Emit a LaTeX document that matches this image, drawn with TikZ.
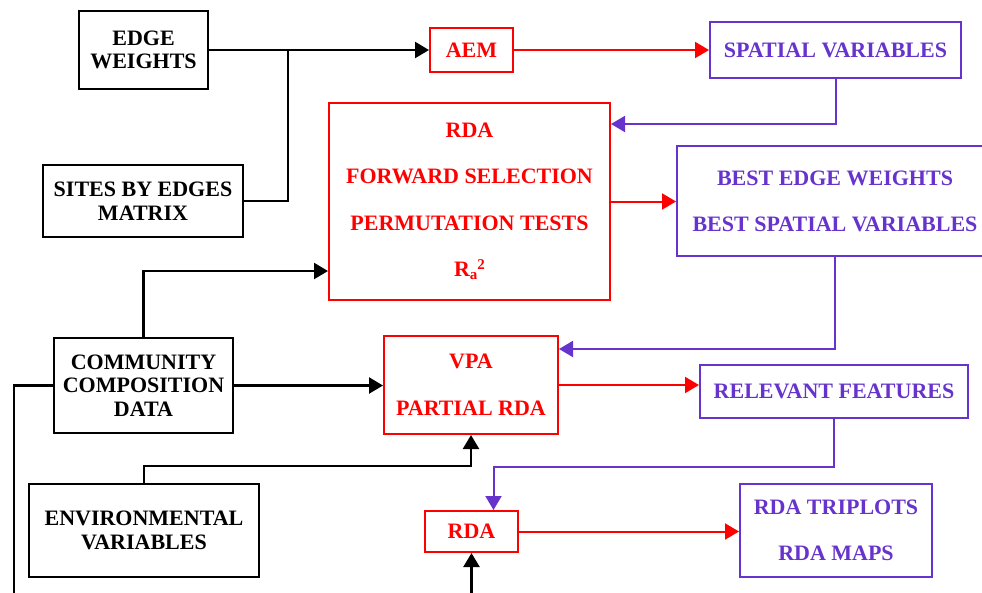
\documentclass[tikz,border=0pt]{standalone}
\usepackage{fontspec}
\setmainfont{Liberation Serif}
\usetikzlibrary{arrows.meta}
\definecolor{vio}{RGB}{102,51,204}
\definecolor{rd}{RGB}{255,0,0}
\begin{document}
\begin{tikzpicture}[x=1pt,y=-1pt,
  box/.style={draw, line width=2pt, align=center, inner sep=0pt, font=\bfseries\fontsize{22}{23.5}\selectfont},
  bbox/.style={box, draw=black, text=black, line width=2.4pt},
  rbox/.style={box, draw=rd, text=rd, font=\bfseries\fontsize{22}{46.5}\selectfont},
  pbox/.style={box, draw=vio, text=vio, font=\bfseries\fontsize{22}{46}\selectfont},
  tip/.style={-{Triangle[length=14pt,width=16pt]}},
  barr/.style={draw=black, line width=2.4pt},
  rarr/.style={draw=rd, line width=2pt},
  parr/.style={draw=vio, line width=2pt}]
\useasboundingbox (0,0) rectangle (982,592);
\fill[white] (0,0) rectangle (982,592);
% nodes
\node[bbox, minimum width=129pt, minimum height=78pt] (ew) at (143.5,50) {EDGE\\WEIGHTS};
\node[bbox, minimum width=200pt, minimum height=72pt] (sbe) at (143,201) {SITES BY EDGES\\MATRIX};
\node[rbox, minimum width=83pt, minimum height=44pt] (aem) at (471.5,50) {AEM};
\node[pbox, minimum width=251pt, minimum height=56pt] (sv) at (835.5,50) {SPATIAL VARIABLES};
\node[rbox, minimum width=281pt, minimum height=197pt] (rda1) at (469.5,201.5)
  {RDA\\FORWARD SELECTION\\PERMUTATION TESTS\\R\raisebox{-0.3ex}{\fontsize{15}{15}\selectfont a}\raisebox{0.75ex}{\fontsize{15}{15}\selectfont 2}};
\node[pbox, minimum width=316pt, minimum height=110pt] (best) at (835,201) {BEST EDGE WEIGHTS\\BEST SPATIAL VARIABLES};
\node[bbox, minimum width=179pt, minimum height=95pt] (cc) at (143.5,385.5) {COMMUNITY\\COMPOSITION\\DATA};
\node[rbox, minimum width=174pt, minimum height=98pt] (vpa) at (471,385) {VPA\\PARTIAL RDA};
\node[pbox, minimum width=268pt, minimum height=53pt] (rf) at (834,391.5) {RELEVANT FEATURES};
\node[bbox, minimum width=230pt, minimum height=93pt] (env) at (144,530.5) {ENVIRONMENTAL\\VARIABLES};
\node[rbox, minimum width=93pt, minimum height=41pt] (rda2) at (471.5,531.5) {RDA};
\node[pbox, minimum width=192pt, minimum height=93pt] (tri) at (836,530.5) {RDA TRIPLOTS\\RDA MAPS};
% helper coordinates
\coordinate (j1) at (288,50);
\coordinate (lc) at (14,615);
% connectors
\draw[barr, tip] (ew.east) -- (aem.west);
\draw[barr] (sbe.east) -| (j1);
\draw[rarr, tip] (aem.east) -- (sv.west);
\draw[parr, tip] (sv.south) |- ([yshift=-22pt]rda1.north east);
\draw[rarr, tip] (rda1.east) -- (best.west |- rda1.east);
\draw[parr, tip] (best.south) |- ([yshift=-14pt]vpa.north east);
\draw[rarr, tip] (vpa.east) -- (rf.west |- vpa.east);
\draw[parr, tip] (rf.south) -- ++(0,48) -| ([xshift=22pt]rda2.north);
\draw[rarr, tip] (rda2.east) -- (tri.west |- rda2.east);
\draw[barr, tip] (cc.north) |- ([yshift=30pt]rda1.south west);
\draw[barr, tip] (cc.east) -- (vpa.west |- cc.east);
\draw[barr, tip] (env.north) -- ++(0,-17) -| (vpa.south);
\draw[barr, tip] (cc.west) -| (lc) -| (rda2.south);
\end{tikzpicture}
\end{document}
